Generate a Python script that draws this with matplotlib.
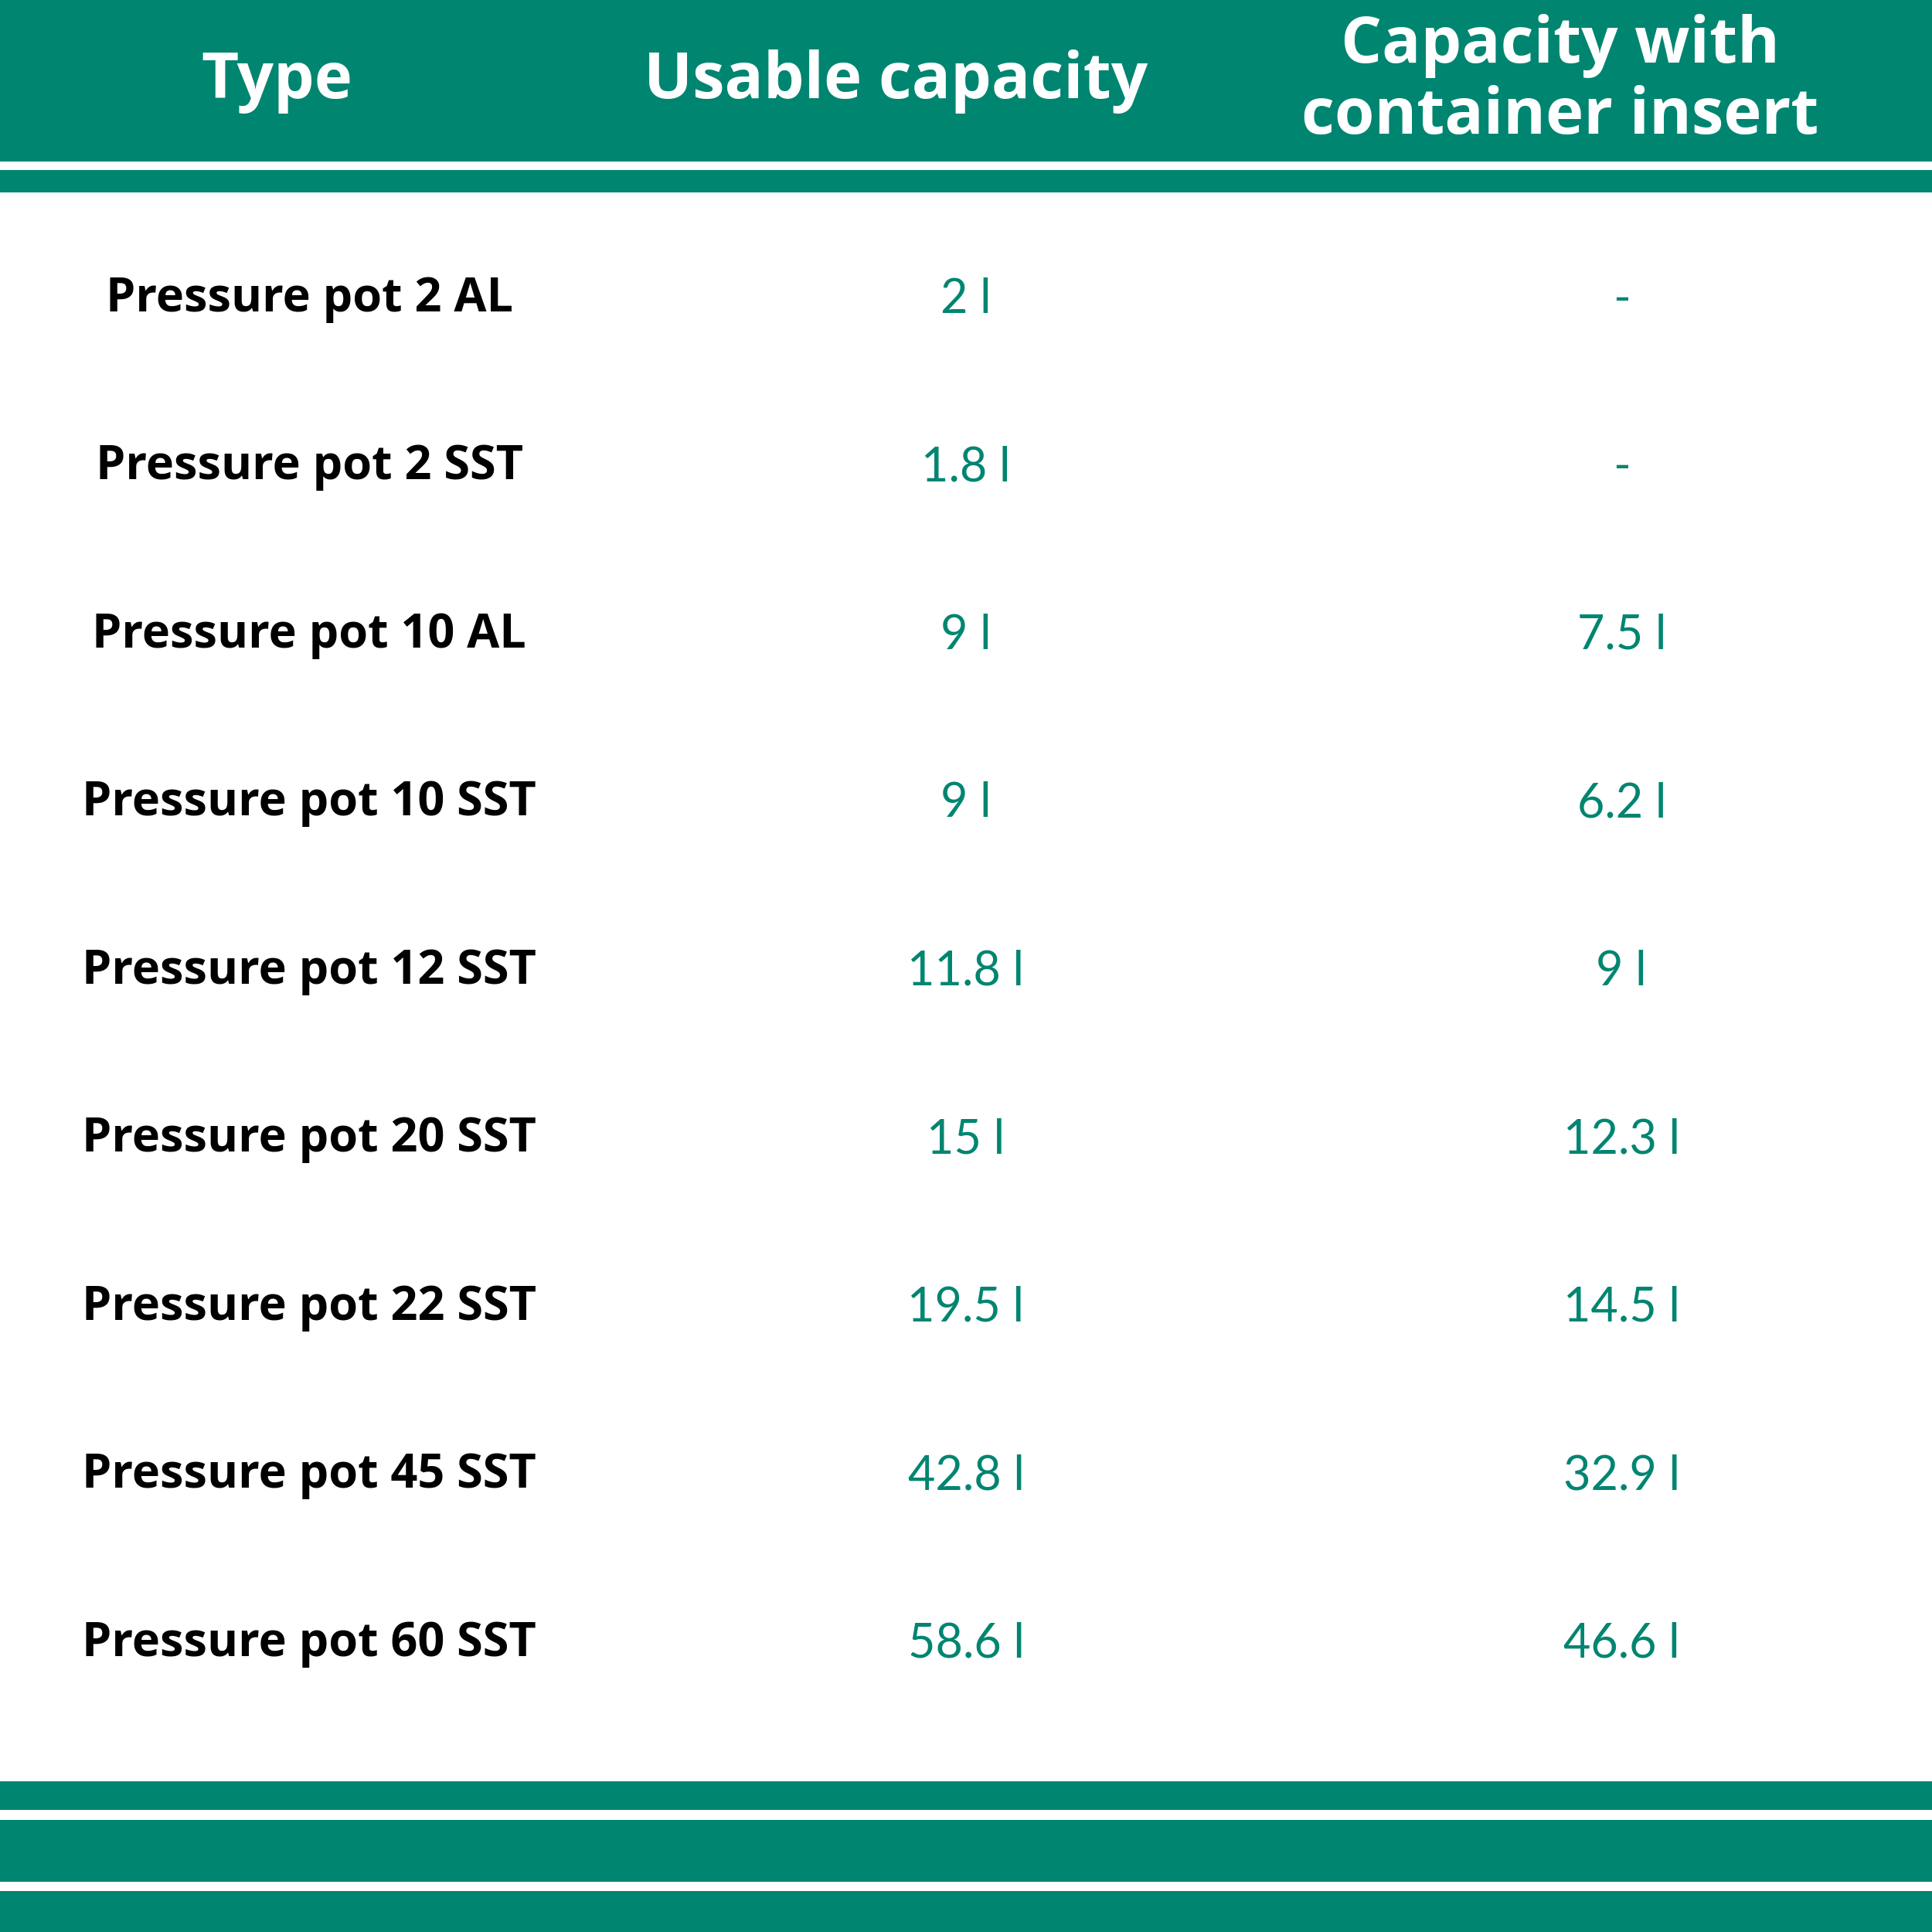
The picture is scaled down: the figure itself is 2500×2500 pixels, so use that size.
import matplotlib.pyplot as plt
from matplotlib.patches import Rectangle

green = '#008571'

headers = ['Type', 'Usable capacity', 'Capacity with\ncontainer insert']
types = ['Pressure pot 2 AL', 'Pressure pot 2 SST', 'Pressure pot 10 AL', 'Pressure pot 10 SST',
         'Pressure pot 12 SST', 'Pressure pot 20 SST', 'Pressure pot 22 SST',
         'Pressure pot 45 SST', 'Pressure pot 60 SST']
usable = ['2 l', '1.8 l', '9 l', '9 l', '11.8 l', '15 l', '19.5 l', '42.8 l', '58.6 l']
insert = ['-', '-', '7.5 l', '6.2 l', '9 l', '12.3 l', '14.5 l', '32.9 l', '46.6 l']

fig = plt.figure(figsize=(25, 25), dpi=100)
ax = fig.add_axes([0, 0, 1, 1])
ax.set_xlim(0, 1568)
ax.set_ylim(1568, 0)
ax.axis('off')

# green bands (top and bottom)
for y0, y1 in [(0, 131), (138, 156), (1446, 1469), (1477, 1527), (1535, 1568)]:
    ax.add_patch(Rectangle((0, y0), 1568, y1 - y0, color=green, lw=0))

head_x = [225, 727, 1266]
for x, h in zip(head_x, headers):
    ax.text(x, 66, h, ha='center', va='center', color='white', fontsize=60,
            fontweight='bold', family='Open Sans', linespacing=1.15)

col_x = [251, 784, 1316]
for i in range(len(types)):
    y = 243 + i * 136.4
    ax.text(col_x[0], y, types[i], ha='center', va='center', color='black',
            fontsize=44, fontweight='bold', family='Open Sans')
    ax.text(col_x[1], y, usable[i], ha='center', va='center', color=green,
            fontsize=44, family='Lato')
    ax.text(col_x[2], y, insert[i], ha='center', va='center', color=green,
            fontsize=44, family='Lato')

fig.savefig('out.png', dpi=100)
